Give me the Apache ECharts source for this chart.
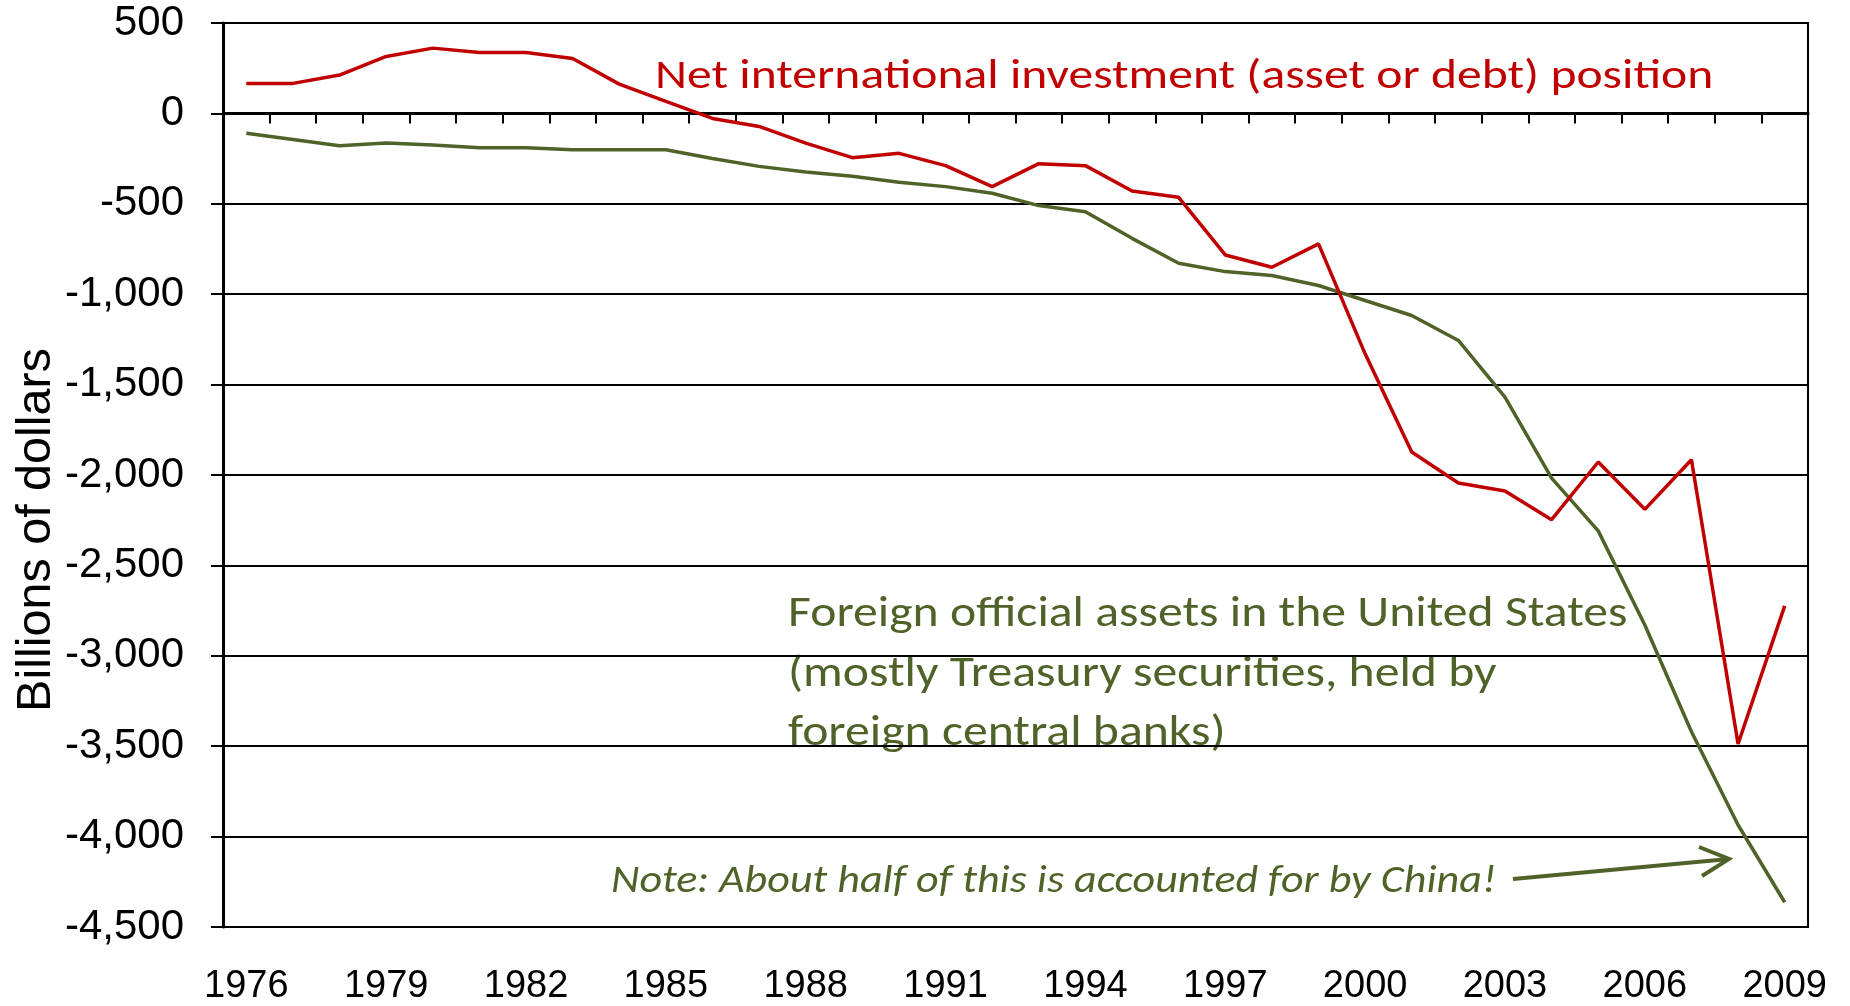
<!DOCTYPE html>
<html>
<head>
<meta charset="utf-8">
<script src="https://cdn.jsdelivr.net/npm/echarts@6/dist/echarts.min.js"></script>
<style>
  html, body { margin: 0; padding: 0; background: #fff; }
  #chart { width: 1850px; height: 1006px; }
</style>
</head>
<body>
<div id="chart"></div>
<script>
// years on the x axis
var years = [];
for (var y = 1976; y <= 2009; y++) years.push(String(y));

// net international investment position, billions of dollars
var netPosition = [166, 166, 212, 315, 361, 337, 337, 304, 162, 66,
  -28, -72, -164, -245, -221, -289, -405, -278, -289, -429,
  -464, -783, -851, -722, -1330, -1873, -2044, -2088, -2247, -1928,
  -2190, -1916, -3488, -2724];

// foreign official assets in the US (shown negative)
var officialAssets = [-110, -144, -179, -164, -175, -190, -190, -201, -201, -201,
  -249, -293, -324, -348, -381, -405, -442, -510, -544, -691,
  -829, -875, -897, -952, -1035, -1118, -1256, -1569, -2017, -2309,
  -2830, -3420, -3936, -4363];

var yMin = -4500, yMax = 500, yStep = 500;

var RED = '#C00000';
var GREEN = '#4F6228';
var ARIAL = '"Liberation Sans", Arial, sans-serif';
var CALIBRI = 'Calibri, Carlito, Lato, sans-serif';

function commaFormat(v) {
  var s = Math.abs(v).toString().replace(/(\d)(?=(?:\d{3})+$)/g, '$1,');
  return (v < 0 ? '-' : '') + s;
}

var chart = echarts.init(document.getElementById('chart'));
chart.setOption({
  animation: false,
  backgroundColor: '#fff',
  grid: {
    left: 223, right: 42, top: 23, bottom: 78,
    show: true, borderColor: '#000', borderWidth: 2
  },
  xAxis: [{
    // zero line with ticks
    type: 'category',
    data: years,
    position: 'bottom',
    boundaryGap: true,
    axisLine: { show: true, onZero: true, lineStyle: { color: '#000', width: 3 } },
    axisTick: { show: true, interval: 0, length: 10, lineStyle: { color: '#000', width: 2 } },
    axisLabel: { show: false },
    splitLine: { show: false }
  }, {
    // bottom labels only
    type: 'category',
    data: years,
    position: 'bottom',
    boundaryGap: true,
    axisLine: { show: false, onZero: false },
    axisTick: { show: false },
    axisLabel: { show: true, interval: 2, margin: 41, color: '#000', fontSize: 38, fontFamily: ARIAL },
    splitLine: { show: false }
  }],
  yAxis: {
    type: 'value',
    min: yMin, max: yMax, interval: yStep,
    axisLine: { show: true, lineStyle: { color: '#000', width: 3 } },
    axisTick: { show: true, length: 12, lineStyle: { color: '#000', width: 2 } },
    axisLabel: {
      margin: 39, color: '#000', fontSize: 42, fontFamily: ARIAL,
      formatter: function (v) { return commaFormat(v); }
    },
    splitLine: { show: true, lineStyle: { color: '#000', width: 2 } }
  },
  series: [{
    name: 'Net international investment (asset or debt) position',
    type: 'line',
    data: netPosition,
    showSymbol: false,
    lineStyle: { color: RED, width: 3.5 },
    z: 3
  }, {
    name: 'Foreign official assets in the United States',
    type: 'line',
    data: officialAssets,
    showSymbol: false,
    lineStyle: { color: GREEN, width: 3.5 },
    z: 2
  }],
  graphic: [{
    type: 'text',
    x: 37, y: 530,
    rotation: Math.PI / 2,
    style: {
      text: 'Billions of dollars', fill: '#000',
      font: '48.5px ' + ARIAL, textAlign: 'center', textVerticalAlign: 'middle'
    }
  }, {
    type: 'text',
    x: 655, y: 78, scaleX: 1.21,
    style: {
      text: 'Net international investment (asset or debt) position', fill: RED,
      font: '41px ' + CALIBRI, textAlign: 'left', textVerticalAlign: 'middle'
    }
  }, {
    type: 'text', x: 788, y: 615, scaleX: 1.13,
    style: { text: 'Foreign official assets in the United States', fill: GREEN,
      font: '44px ' + CALIBRI, textAlign: 'left', textVerticalAlign: 'middle' }
  }, {
    type: 'text', x: 788, y: 675, scaleX: 1.13,
    style: { text: '(mostly Treasury securities, held by', fill: GREEN,
      font: '44px ' + CALIBRI, textAlign: 'left', textVerticalAlign: 'middle' }
  }, {
    type: 'text', x: 788, y: 734, scaleX: 1.13,
    style: { text: 'foreign central banks)', fill: GREEN,
      font: '44px ' + CALIBRI, textAlign: 'left', textVerticalAlign: 'middle' }
  }, {
    type: 'text', x: 611, y: 882, scaleX: 1.13,
    style: { text: 'Note: About half of this is accounted for by China!', fill: GREEN,
      font: 'italic 39px ' + CALIBRI, textAlign: 'left', textVerticalAlign: 'middle' }
  }, {
    type: 'line',
    shape: { x1: 1513, y1: 879, x2: 1729, y2: 859 },
    style: { stroke: GREEN, lineWidth: 4 }
  }, {
    type: 'polyline',
    shape: { points: [[1699, 847], [1729, 859], [1702, 876]] },
    style: { stroke: GREEN, lineWidth: 4, fill: null }
  }]
});
</script>
</body>
</html>
